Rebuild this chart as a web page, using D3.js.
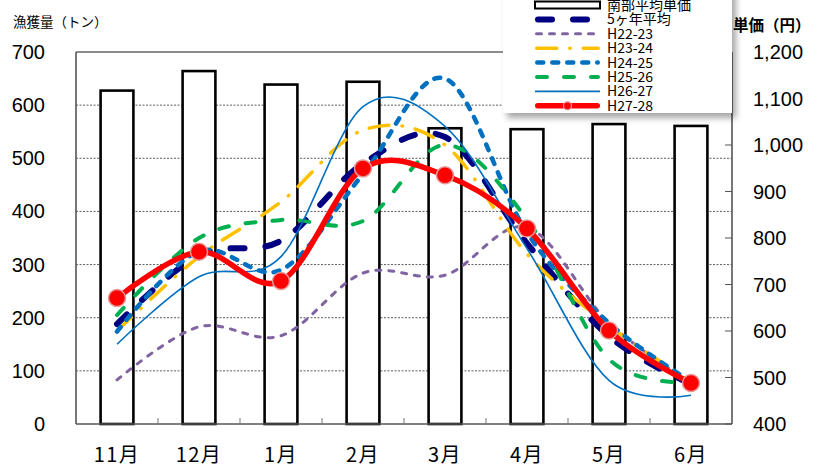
<!DOCTYPE html>
<html>
<head>
<meta charset="utf-8">
<script src="https://cdn.jsdelivr.net/npm/d3@7"></script>
<style>
  body { margin: 0; background: #fff; }
  svg { display: block; }
</style>
</head>
<body>
<svg id="chart" width="824" height="468"></svg>
<script>
const months = ['11月', '12月', '1月', '2月', '3月', '4月', '5月', '6月'];

// 南部平均単価 (円) - right axis
const price = [1117, 1159, 1130, 1136, 1036, 1034, 1045, 1041];

// catch (トン) - left axis
const avg5 = [188, 318, 345, 490, 540, 340, 165, 75];
const h2223 = [83, 183, 166, 284, 280, 370, 190, 78];
const h2324 = [175, 315, 418, 553, 525, 320, 185, 80];
const h2425 = [174, 325, 290, 470, 650, 360, 190, 80];
const h2526 = [205, 350, 384, 382, 525, 385, 122, 79];
const h2627 = [150, 277, 315, 597, 560, 330, 82, 54];
const h2728 = [237, 324, 269, 481, 468, 368, 176, 77];

const leftTicks = [0, 100, 200, 300, 400, 500, 600, 700];
const rightTicks = [400, 500, 600, 700, 800, 900, 1000, 1100, 1200];

const series = [
  { name: '5ヶ年平均', values: avg5, color: '#000080', width: 6, dash: '14,21', cap: 'round' },
  { name: 'H22-23', values: h2223, color: '#8064A2', width: 3, dash: '5,8', cap: 'round' },
  { name: 'H23-24', values: h2324, color: '#FFC000', width: 3.5, dash: '20,13,0.5,13', cap: 'round' },
  { name: 'H24-25', values: h2425, color: '#0070C0', width: 4.5, dash: '6,9', cap: 'round' },
  { name: 'H25-26', values: h2526, color: '#00B050', width: 4, dash: '10,17', cap: 'round' },
  { name: 'H26-27', values: h2627, color: '#0070C0', width: 1.6, dash: null, cap: 'butt' },
  { name: 'H27-28', values: h2728, color: '#FF0000', width: 5.5, dash: null, cap: 'round', marker: true }
];

const jp = '"Noto Sans CJK JP", sans-serif';
const num = '"Liberation Sans", Arial, sans-serif';

const svg = d3.select('#chart');

function drawChart() {
  const left = 76, right = 732, top = 52, bottom = 424;

  const x = d3.scaleBand()
    .domain(months)
    .range([left, right])
    .paddingInner(0.6)
    .paddingOuter(0.3);
  const step = x.step();
  const cx = m => x(m) + x.bandwidth() / 2;

  const yL = d3.scaleLinear().domain([0, 700]).range([bottom, top]);
  const yR = d3.scaleLinear().domain([400, 1200]).range([bottom, top]);

  // grid lines
  svg.append('g')
    .selectAll('line')
    .data(leftTicks.filter(t => t > 0 && t < 700))
    .join('line')
    .attr('x1', left)
    .attr('x2', right)
    .attr('y1', d => yL(d))
    .attr('y2', d => yL(d))
    .attr('stroke', '#333')
    .attr('stroke-width', 0.8)
    .attr('stroke-dasharray', '2,1.5');

  // top border
  svg.append('line')
    .attr('x1', left).attr('x2', right)
    .attr('y1', yL(700)).attr('y2', yL(700))
    .attr('stroke', '#8c8c8c')
    .attr('stroke-width', 2);

  // bars
  svg.append('g')
    .selectAll('rect')
    .data(months)
    .join('rect')
    .attr('x', d => x(d))
    .attr('y', (d, i) => yR(price[i]))
    .attr('width', x.bandwidth())
    .attr('height', (d, i) => bottom - yR(price[i]))
    .attr('fill', '#fff')
    .attr('stroke', '#000')
    .attr('stroke-width', 2.6);

  // axes lines
  svg.append('line')
    .attr('x1', left).attr('x2', left)
    .attr('y1', top).attr('y2', bottom)
    .attr('stroke', '#555').attr('stroke-width', 1.6);
  svg.append('line')
    .attr('x1', right).attr('x2', right)
    .attr('y1', top).attr('y2', bottom)
    .attr('stroke', '#555').attr('stroke-width', 1.6);
  svg.append('line')
    .attr('x1', left).attr('x2', right)
    .attr('y1', bottom).attr('y2', bottom)
    .attr('stroke', '#555').attr('stroke-width', 1.6);

  // bottom ticks between months
  for (let i = 1; i < months.length; i++) {
    const tx = x(months[0]) - x.paddingOuter() * step + step * i;
    svg.append('line')
      .attr('x1', tx).attr('x2', tx)
      .attr('y1', bottom).attr('y2', bottom - 6)
      .attr('stroke', '#777').attr('stroke-width', 1);
  }

  // right ticks (inward)
  svg.append('g')
    .selectAll('line')
    .data(rightTicks)
    .join('line')
    .attr('x1', right - 7).attr('x2', right)
    .attr('y1', d => yR(d)).attr('y2', d => yR(d))
    .attr('stroke', '#555').attr('stroke-width', 1);

  // tick labels
  svg.append('g')
    .selectAll('text')
    .data(leftTicks)
    .join('text')
    .attr('x', 45)
    .attr('y', d => yL(d) + 7)
    .attr('text-anchor', 'end')
    .attr('font-family', num)
    .attr('font-size', 20)
    .text(d => d);

  svg.append('g')
    .selectAll('text')
    .data(rightTicks)
    .join('text')
    .attr('x', 753)
    .attr('y', d => yR(d) + 7)
    .attr('font-family', num)
    .attr('font-size', 20)
    .text(d => d3.format(',')(d));

  svg.append('g')
    .selectAll('text')
    .data(months)
    .join('text')
    .attr('x', d => cx(d))
    .attr('y', 462)
    .attr('text-anchor', 'middle')
    .attr('font-family', jp)
    .attr('font-size', 20)
    .attr('letter-spacing', 1.5)
    .text(d => d);

  // axis titles
  svg.append('text')
    .attr('x', 13).attr('y', 27)
    .attr('font-family', jp)
    .attr('font-size', 13.5)
    .text('漁獲量（トン）');
  svg.append('text')
    .attr('x', 733).attr('y', 31)
    .attr('font-family', jp)
    .attr('font-size', 15.5)
    .attr('font-weight', 'bold')
    .text('単価（円）');

  // lines
  const line = d3.line()
    .x((d, i) => cx(months[i]))
    .y(d => yL(d))
    .curve(d3.curveCatmullRom.alpha(0));

  for (const s of series) {
    const p = svg.append('path')
      .datum(s.values)
      .attr('d', line)
      .attr('fill', 'none')
      .attr('stroke', s.color)
      .attr('stroke-width', s.width)
      .attr('stroke-linecap', s.cap)
      .attr('stroke-linejoin', 'round');
    if (s.dash) p.attr('stroke-dasharray', s.dash);

    if (s.marker) {
      svg.append('g')
        .selectAll('circle')
        .data(s.values)
        .join('circle')
        .attr('cx', (d, i) => cx(months[i]))
        .attr('cy', d => yL(d))
        .attr('r', 8.5)
        .attr('fill', '#FF0000')
        .attr('stroke', '#E49A9A')
        .attr('stroke-width', 1.5);
    }
  }

  drawLegend();
}

function drawLegend() {
  const defs = svg.append('defs');
  const f = defs.append('filter')
    .attr('id', 'shadow')
    .attr('x', '-10%').attr('y', '-10%')
    .attr('width', '130%').attr('height', '140%');
  f.append('feDropShadow')
    .attr('dx', 4).attr('dy', 5)
    .attr('stdDeviation', 3)
    .attr('flood-color', '#000')
    .attr('flood-opacity', 0.35);

  svg.append('rect')
    .attr('x', 503).attr('y', -10)
    .attr('width', 229).attr('height', 123)
    .attr('fill', '#fff')
    .attr('filter', 'url(#shadow)');

  const x0 = 535, x1 = 600, tx = 607;
  const rowY = i => 5 + i * 14.4;

  // bar entry
  svg.append('rect')
    .attr('x', x0).attr('y', rowY(0) - 3.5)
    .attr('width', x1 - x0).attr('height', 7)
    .attr('fill', '#fff')
    .attr('stroke', '#000')
    .attr('stroke-width', 2);
  svg.append('text')
    .attr('x', tx).attr('y', rowY(0) + 5)
    .attr('font-family', jp)
    .attr('font-size', 14)
    .text('南部平均単価');

  series.forEach((s, i) => {
    const y = rowY(i + 1);
    const l = svg.append('line')
      .attr('x1', x0 + (s.cap === 'round' ? s.width / 2 : 0))
      .attr('x2', x1 - (s.cap === 'round' ? s.width / 2 : 0))
      .attr('y1', y).attr('y2', y)
      .attr('stroke', s.color)
      .attr('stroke-width', s.width)
      .attr('stroke-linecap', s.cap);
    if (s.dash) l.attr('stroke-dasharray', s.dash);
    if (s.marker) {
      svg.append('circle')
        .attr('cx', (x0 + x1) / 2).attr('cy', y)
        .attr('r', 4)
        .attr('fill', '#FF0000')
        .attr('stroke', '#E49A9A')
        .attr('stroke-width', 1.2);
    }
    svg.append('text')
      .attr('x', tx).attr('y', y + 5)
      .attr('font-family', jp)
      .attr('font-size', 14)
      .text(s.name);
  });
}

drawChart();
</script>
</body>
</html>
